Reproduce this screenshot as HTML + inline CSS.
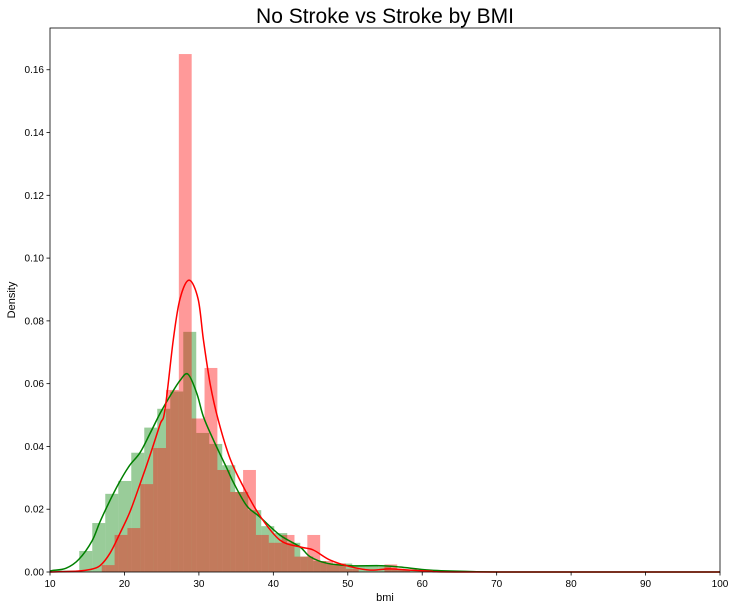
<!DOCTYPE html>
<html><head><meta charset="utf-8"><style>
html,body{margin:0;padding:0;background:#fff;}
svg{display:block;font-family:"Liberation Sans",sans-serif;}
</style></head><body>
<svg id="chart" width="736" height="610" viewBox="0 0 736 610">
<text x="385" y="23" text-anchor="middle" font-size="21" fill="#000">No Stroke vs Stroke by BMI</text>
<text x="385" y="601" text-anchor="middle" font-size="11" fill="#000">bmi</text>
<text x="15" y="300" text-anchor="middle" font-size="11" fill="#000" transform="rotate(-90 15 300)">Density</text>
<g id="bars"></g>
<g id="lines"></g>
<g id="axes"></g>
</svg>
<script>
const xTicks = [10,20,30,40,50,60,70,80,90,100];
const yTicks = [0,0.02,0.04,0.06,0.08,0.10,0.12,0.14,0.16];
const yTickLabels = ["0.00","0.02","0.04","0.06","0.08","0.10","0.12","0.14","0.16"];
const greenBinStart = 10.44;
const greenBinWidth = 1.746;
const greenBins = [0.0005,0.0005,0.0067,0.0156,0.0249,0.029,0.038,0.046,0.052,0.0575,0.0765,0.0443,0.0408,0.034,0.0255,0.0197,0.0146,0.0124,0.0093,0.0049,0.0035,0.0026,0.0027,0.0021,0.002,0.0017,0.001,0.0008,0.0005,0.0003,0.0003];
const redBinStart = 16.95;
const redBinWidth = 1.726;
const redBins = [0.0022,0.0118,0.014,0.028,0.0395,0.058,0.165,0.0489,0.065,0.0325,0.0255,0.0325,0.0118,0.0093,0.0118,0.0049,0.0118,0.0035,0.0027,0.001,0,0,0.0024,0.0008];
const greenKdeX = [10,10.41,12.16,13.87,15.67,16.71,18.1,19.41,20.71,22.09,23.41,24.78,26.11,27.46,28.54,29.71,30.61,31.96,33.76,34.75,36.46,38.17,40.87,43.57,44.92,47.17,50.32,54.37,56.98,61.03,65.8,73,100];
const greenKdeY = [0.0003,0.0005,0.0012,0.004,0.010,0.016,0.023,0.029,0.034,0.038,0.044,0.0505,0.056,0.061,0.063,0.057,0.0495,0.042,0.033,0.028,0.021,0.0176,0.0118,0.008,0.0049,0.0028,0.002,0.002,0.0016,0.0006,0.0002,0,0];
const redKdeX = [10,13.6,15.4,16.71,18.06,19.41,20.71,22.09,23.41,24.78,25.44,26.56,27.46,28.68,29.89,30.61,31.51,32.59,34.21,36.01,38.17,40.87,43.57,45.37,47.62,50.32,53.02,55.63,58.33,61.03,65.8,100];
const redKdeY = [0,0.0003,0.0008,0.002,0.006,0.0124,0.019,0.028,0.037,0.047,0.0516,0.074,0.087,0.093,0.087,0.074,0.060,0.0485,0.036,0.027,0.018,0.0102,0.008,0.007,0.0038,0.0017,0.0006,0.001,0.0006,0.0003,0,0];

const X0=50,X1=720,Y0=572,Y1=28;
const xMin=10,xMax=100,yMin=0,yMax=0.1733;
function sx(v){return X0+(v-xMin)/(xMax-xMin)*(X1-X0);}
function sy(v){return Y0-(v-yMin)/(yMax-yMin)*(Y0-Y1);}
const NS="http://www.w3.org/2000/svg";
function mk(tag,attrs,parent){const e=document.createElementNS(NS,tag);for(const k in attrs)e.setAttribute(k,attrs[k]);parent.appendChild(e);return e;}
const bars=document.getElementById('bars'),lines=document.getElementById('lines'),axes=document.getElementById('axes');
greenBins.forEach((v,i)=>{const a=greenBinStart+i*greenBinWidth;const x=sx(a),w=sx(a+greenBinWidth)-x;
 const r=mk('rect',{x:x,y:sy(v),width:w,height:Y0-sy(v),fill:'#008000','fill-opacity':0.4},bars);
 
 });
redBins.forEach((v,i)=>{const a=redBinStart+i*redBinWidth;const x=sx(a),w=sx(a+redBinWidth)-x;
 const r=mk('rect',{x:x,y:sy(v),width:w,height:Y0-sy(v),fill:'#ff0000','fill-opacity':0.4},bars);
 
 });
function path(xs,ys){
 const p=xs.map((x,i)=>[sx(x),sy(ys[i])]);
 let d='M'+p[0][0].toFixed(1)+','+p[0][1].toFixed(1);
 for(let i=0;i<p.length-1;i++){
  const p0=p[Math.max(0,i-1)],p1=p[i],p2=p[i+1],p3=p[Math.min(p.length-1,i+2)];
  const t=1/6;
  let c1y=p1[1]+(p2[1]-p0[1])*t, c2y=p2[1]-(p3[1]-p1[1])*t;
  c1y=Math.min(c1y,Y0); c2y=Math.min(c2y,Y0);
  d+='C'+(p1[0]+(p2[0]-p0[0])*t).toFixed(1)+','+c1y.toFixed(1)+' '+(p2[0]-(p3[0]-p1[0])*t).toFixed(1)+','+c2y.toFixed(1)+' '+p2[0].toFixed(1)+','+p2[1].toFixed(1);
 }
 return d;}
const gl=mk('path',{d:path(greenKdeX,greenKdeY),fill:'none',stroke:'#008000','stroke-width':1.5,'stroke-linejoin':'round'},lines);


const rl=mk('path',{d:path(redKdeX,redKdeY),fill:'none',stroke:'#ff0000','stroke-width':1.5,'stroke-linejoin':'round'},lines);


const fr=mk('rect',{x:X0,y:Y1,width:X1-X0,height:Y0-Y1,fill:'none',stroke:'#000','stroke-width':0.8},axes);


xTicks.forEach(t=>{const x=sx(t);mk('line',{x1:x,x2:x,y1:Y0,y2:Y0+3.5,stroke:'#000','stroke-width':0.8},axes);
 const tx=mk('text',{x:x,y:Y0+15,'text-anchor':'middle','font-size':10,fill:'#000'},axes);tx.textContent=t;
 
 });
yTicks.forEach((t,i)=>{const y=sy(t);mk('line',{x1:X0-3.5,x2:X0,y1:y,y2:y,stroke:'#000','stroke-width':0.8},axes);
 const tx=mk('text',{x:X0-6,y:y+3.5,'text-anchor':'end','font-size':10,fill:'#000'},axes);tx.textContent=yTickLabels[i];
 
 });
</script>
</body></html>
